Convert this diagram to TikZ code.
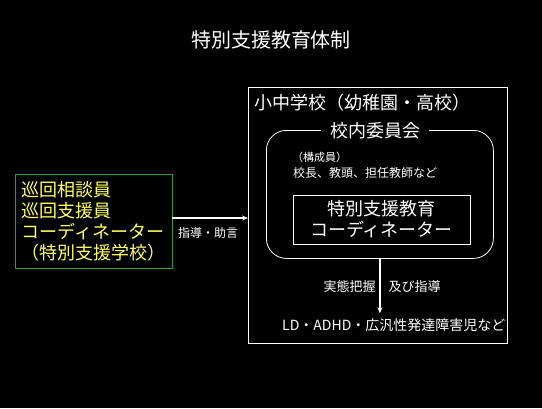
\documentclass[tikz,border=0pt]{standalone}
\usepackage{fontspec}
\setmainfont{Noto Sans CJK JP}
\usepackage{xcolor}
\usetikzlibrary{positioning,arrows.meta}
\definecolor{rostertext}{RGB}{255,255,102}
\definecolor{rosterframe}{RGB}{60,150,60}

\begin{document}
\begin{tikzpicture}[x=1pt, y=-1pt, every node/.style={text=white, inner sep=0pt},
  big/.style={font=\fontsize{18}{21}\selectfont},
  small/.style={font=\fontsize{12}{14}\selectfont},
  frame/.style={draw=white, line width=0.8pt},
  conn/.style={draw=white, line width=1.6pt, -{Stealth[length=6pt,width=5pt]}}]
\fill[black] (0,0) rectangle (542,408);
\useasboundingbox (0,0) rectangle (542,408);
\node[font=\fontsize{20}{24}\selectfont] (title) at (271,40) {特別支援教育体制};
% school side
\node[frame, anchor=north west, minimum width=259pt, minimum height=256pt] (school) at (248,87) {};
\node[big, anchor=west] (schoolname) at (254,103) {小中学校（幼稚園・高校）};
\node[frame, rounded corners=20pt, anchor=north west, minimum width=227pt, minimum height=128pt] (committee) at (266,130) {};
\node[big, fill=black, inner xsep=9pt] (committeename) at (375,131) {校内委員会};
\node[font=\fontsize{11}{13}\selectfont, anchor=west] (members) at (292,157) {（構成員）};
\node[small, anchor=west] (staff) at (293,173) {校長、教頭、担任教師など};
\node[frame, big, align=center, minimum width=177pt, minimum height=49pt] (coord) at (381.5,219.5) {特別支援教育\\コーディネーター};
\node[font=\fontsize{13}{15}\selectfont] (survey) at (382,287) {実態把握　及び指導};
\node[font=\fontsize{14}{16}\selectfont, anchor=west] (children) at (282,325) {LD・ADHD・広汎性発達障害児など};
% visiting staff
\node[big, draw=rosterframe, line width=0.8pt, text=rostertext, align=left, minimum width=157pt, minimum height=94pt] (visitors) at (93.5,221) {巡回相談員\\巡回支援員\\コーディネーター\\（特別支援学校）};
\node[small] (advice) at (208,233) {指導・助言};
\draw[conn] ([yshift=3pt]visitors.east) -- ([yshift=3pt]visitors.east -| school.west);\draw[conn] (committee.south) -- ([yshift=5pt]committee.south |- children.north);
\end{tikzpicture}
\end{document}
